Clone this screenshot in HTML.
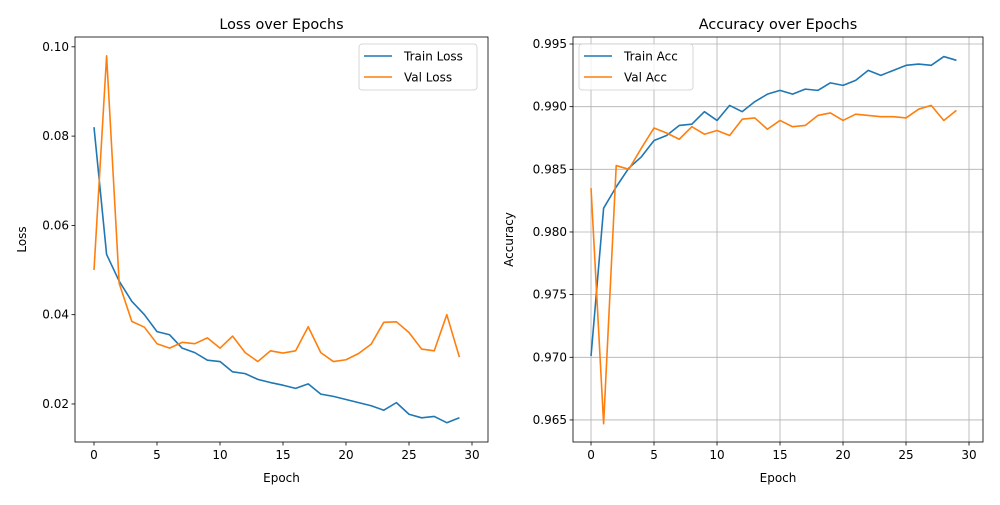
<!DOCTYPE html>
<html><head><meta charset="utf-8"><style>
body{margin:0;background:#fff;font-family:"Liberation Sans","DejaVu Sans",sans-serif}
svg text{font-family:"DejaVu Sans","Liberation Sans",sans-serif;fill:#000}
</style></head><body>
<svg id="c" width="1000" height="500"></svg>
<script>
const epochs = Array.from({length:30},(_,i)=>i);
const trainLoss = [0.082,0.0535,0.0475,0.043,0.040,0.0362,0.0355,0.0325,0.0315,0.0298,0.0295,0.0272,0.0268,0.0255,0.0248,0.0242,0.0235,0.0245,0.0222,0.0217,0.021,0.0203,0.0196,0.0186,0.0203,0.0177,0.0169,0.0172,0.0158,0.0169];
const valLoss = [0.050,0.098,0.047,0.0385,0.0372,0.0335,0.0325,0.0338,0.0335,0.0348,0.0325,0.0352,0.0315,0.0295,0.0319,0.0314,0.0319,0.0373,0.0315,0.0295,0.0299,0.0313,0.0334,0.0383,0.0384,0.036,0.0323,0.0319,0.040,0.0305];
const trainAcc = [0.9701,0.9819,0.9836,0.9851,0.986,0.9873,0.9877,0.9885,0.9886,0.9896,0.9889,0.9901,0.9896,0.9904,0.991,0.9913,0.991,0.9914,0.9913,0.9919,0.9917,0.9921,0.9929,0.9925,0.9929,0.9933,0.9934,0.9933,0.994,0.9937];
const valAcc = [0.9835,0.9647,0.9853,0.985,0.9867,0.9883,0.9879,0.9874,0.9884,0.9878,0.9881,0.9877,0.989,0.9891,0.9882,0.9889,0.9884,0.9885,0.9893,0.9895,0.9889,0.9894,0.9893,0.9892,0.9892,0.9891,0.9898,0.9901,0.9889,0.9897];
const xTicks = [0,5,10,15,20,25,30];
const lossTicks = [0.02,0.04,0.06,0.08,0.10];
const lossTickLabels = ["0.02","0.04","0.06","0.08","0.10"];
const accTicks = [0.965,0.970,0.975,0.980,0.985,0.990,0.995];
const accTickLabels = ["0.965","0.970","0.975","0.980","0.985","0.990","0.995"];

const NS="http://www.w3.org/2000/svg", svg=document.getElementById('c');
function el(t,a,p){const e=document.createElementNS(NS,t);for(const k in a)e.setAttribute(k,a[k]);(p||svg).appendChild(e);return e;}
function txt(s,a,p){const e=el('text',a,p);e.textContent=s;return e;}

function panel(o){
  const g=el('g',{});
  
  
  const {L,R,T,B,x0,x1,y0,y1}=o;
  const sx=v=>L+(v-x0)/(x1-x0)*(R-L), sy=v=>B-(v-y0)/(y1-y0)*(B-T);
  if(o.grid){
    xTicks.forEach(t=>{const l=el('line',{x1:sx(t),x2:sx(t),y1:T,y2:B,stroke:'#b0b0b0','stroke-width':0.8},g);});
    o.yt.forEach(t=>{const l=el('line',{x1:L,x2:R,y1:sy(t),y2:sy(t),stroke:'#b0b0b0','stroke-width':0.8},g);});
  }
  xTicks.forEach(t=>{el('line',{x1:sx(t),x2:sx(t),y1:B,y2:B+3.5,stroke:'#000','stroke-width':0.8},g);
    const e=txt(t,{x:sx(t),y:B+17,'font-size':12,'text-anchor':'middle'},g);});
  o.yt.forEach((t,i)=>{el('line',{x1:L-3.5,x2:L,y1:sy(t),y2:sy(t),stroke:'#000','stroke-width':0.8},g);
    const e=txt(o.yl[i],{x:L-6,y:sy(t)+4,'font-size':12,'text-anchor':'end'},g);});
  [[o.s1,'#1f77b4',o.n1],[o.s2,'#ff7f0e',o.n2]].forEach(([s,c,n])=>{
    const p=el('polyline',{points:s.map((v,i)=>sx(epochs[i])+','+sy(v)).join(' '),fill:'none',stroke:c,'stroke-width':1.6,'stroke-linejoin':'round'},g);
    
  });
  el('rect',{x:L,y:T,width:R-L,height:B-T,fill:'none',stroke:'#000','stroke-width':0.8},g);
  const t=txt(o.title,{x:(L+R)/2,y:T-8,'font-size':14.4,'text-anchor':'middle'},g);
  const xl=txt('Epoch',{x:(L+R)/2,y:482,'font-size':12,'text-anchor':'middle'},g);
  const yl=txt(o.ylab,{x:0,y:0,'font-size':12,'text-anchor':'middle',transform:`translate(${o.ylx},${(T+B)/2}) rotate(-90)`},g);
  const lg=el('g',{},g);
  el('rect',{x:o.lx,y:T+7,width:o.lw,height:46,rx:3,fill:'#fff','fill-opacity':0.8,stroke:'#ccc','stroke-width':0.8},lg);
  [[o.n1l,'#1f77b4'],[o.n2l,'#ff7f0e']].forEach(([n,c],i)=>{
    const y=T+19+i*21;
    el('line',{x1:o.lx+5,x2:o.lx+33,y1:y,y2:y,stroke:c,'stroke-width':1.6},lg);
    const e=txt(n,{x:o.lx+45,y:y+4.5,'font-size':12},lg);
  });
}
panel({name:'loss-chart',L:75,R:488,T:37,B:442,x0:-1.508,x1:31.27,y0:0.01148,y1:0.1022,yt:lossTicks,yl:lossTickLabels,s1:trainLoss,s2:valLoss,n1:'train-loss-line',n2:'val-loss-line',n1l:'Train Loss',n2l:'Val Loss',title:'Loss over Epochs',ylab:'Loss',ylx:26,lx:359,lw:118,grid:false});
panel({name:'accuracy-chart',L:573,R:983,T:37,B:442,x0:-1.43,x1:31.11,y0:0.96324,y1:0.99556,yt:accTicks,yl:accTickLabels,s1:trainAcc,s2:valAcc,n1:'train-acc-line',n2:'val-acc-line',n1l:'Train Acc',n2l:'Val Acc',title:'Accuracy over Epochs',ylab:'Accuracy',ylx:513,lx:579,lw:114,grid:true});
</script>
</body></html>
